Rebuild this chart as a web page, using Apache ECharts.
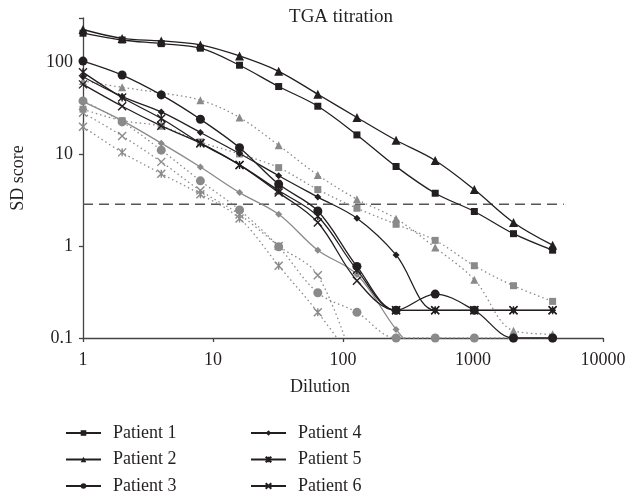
<!DOCTYPE html>
<html>
<head>
<meta charset="utf-8">
<script src="https://cdn.jsdelivr.net/npm/echarts@6/dist/echarts.min.js"></script>
<style>html,body{margin:0;padding:0;background:#fff}#c{width:630px;height:495px}</style>
</head>
<body>
<div id="c"></div>
<script>
// ---- data ----
const dilutions = [1, 2, 4, 8, 16, 32, 64, 128, 256, 512, 1024, 2048, 4096];
const patient1 = [205, 173, 158, 141, 92, 54, 33, 16.1, 7.3, 3.74, 2.37, 1.36, 0.9];
const patient2 = [225, 180, 169, 153, 116, 79, 44.5, 24.9, 14.1, 8.5, 4.1, 1.8, 1.02];
const patient3 = [102, 72, 43.8, 23.8, 11.7, 4.7, 2.4, 0.6, 0.2, 0.3, 0.2, 0.1, 0.1];
const patient4 = [69, 42, 28.6, 17.1, 10.1, 5.8, 3.4, 2.0, 0.8, 0.2, 0.2, 0.2, 0.2];
const patient5 = [77, 41, 24.3, 13.1, 7.6, 4.0, 2.1, 0.55, 0.2, 0.2, 0.2, 0.2, 0.2];
const patient6 = [57, 33, 20.2, 13.1, 7.6, 3.8, 1.8, 0.42, 0.2, 0.2, 0.2, 0.2, 0.2];
const grayTriangle = [62, 53, 46, 38.4, 24.9, 12.4, 5.9, 3.22, 1.98, 0.96, 0.43, 0.12, 0.11];
const graySquare = [30.6, 23, 20, 13.5, 10, 7.1, 4.1, 2.57, 1.72, 1.15, 0.61, 0.37, 0.25];
const grayCircle = [37.7, 22.3, 11.0, 5.1, 2.46, 0.98, 0.31, 0.19, 0.1, 0.1, 0.1, 0.1, 0.1];
const grayDiamond = [37, 23, 13.1, 7.2, 3.8, 2.21, 0.9, 0.49, 0.124, 0.04];
const grayCross = [28, 15.7, 8.2, 4.0, 2.2, 1.0, 0.48, 0.04];
const grayStar = [19.8, 10.4, 6.1, 3.65, 1.99, 0.61, 0.19, 0.05];
const thresholdX = [1, 5000];
const thresholdValue = 2.84;
const xTickLabels = ['1', '10', '100', '1000', '10000'];
const yTickLabels = ['0.1', '1', '10', '100'];

// ---- styling ----
const FONT = 'Liberation Serif';
const BLACK = '#231f20';
const GRAY = '#8a8a8a';
const CROSS = 'path://M0,0L10,10M10,0L0,10';
const STAR = 'path://M0,0L10,10M10,0L0,10M5,0L5,10';

function pairs(vals) { return vals.map((v, i) => [dilutions[i], v]); }

function blackSeries(name, vals, symbol, size, open) {
  return {
    name, type: 'line', data: pairs(vals), smooth: 0.35, z: 5,
    symbol, symbolSize: size,
    lineStyle: { color: BLACK, width: 1.3 },
    itemStyle: open ? { color: BLACK, borderColor: BLACK, borderWidth: 1.4 } : { color: BLACK },
    emphasis: { disabled: true }
  };
}
function graySeries(name, vals, symbol, size, open, solid) {
  return {
    name, type: 'line', data: pairs(vals), smooth: 0.35, z: 3,
    symbol, symbolSize: size,
    lineStyle: { color: GRAY, width: 1.3, type: solid ? 'solid' : [1.5, 3] },
    itemStyle: open ? { color: GRAY, borderColor: GRAY, borderWidth: 1.4 } : { color: GRAY },
    emphasis: { disabled: true }
  };
}

const chart = echarts.init(document.getElementById('c'), null, { renderer: 'canvas' });
const legendText = { fontFamily: FONT, fontSize: 18, color: BLACK, lineHeight: 18, padding: [0, 0, 0, 7] };
const legendCommon = {
  orient: 'vertical', top: 424, height: 80, padding: 0,
  itemWidth: 35, itemHeight: 7, itemGap: 8.5, textStyle: legendText, selectedMode: false
};
chart.setOption({
  animation: false,
  textStyle: { fontFamily: FONT, color: BLACK },
  title: {
    text: 'TGA titration', left: 341, top: 8, textAlign: 'center', padding: 0,
    textStyle: { fontFamily: FONT, fontSize: 19, fontWeight: 'normal', color: BLACK }
  },
  grid: { left: 83, right: 27, top: 18, bottom: 157, containLabel: false },
  xAxis: {
    type: 'log', logBase: 10, min: 1, max: 10000,
    axisLine: { lineStyle: { color: '#444', width: 1.3 } },
    axisTick: { lineStyle: { color: '#444', width: 1.3 }, length: 4 },
    splitLine: { show: false },
    axisLabel: {
      fontFamily: FONT, fontSize: 18, color: BLACK, margin: 13,
      formatter: v => { const s = String(+(+v).toPrecision(3)); return xTickLabels.includes(s) ? s : ''; }
    }
  },
  yAxis: {
    type: 'log', logBase: 10, min: 0.1, max: 300,
    name: 'SD score', nameLocation: 'middle', nameGap: 56,
    nameTextStyle: { fontFamily: FONT, fontSize: 18, color: BLACK },
    axisLine: { lineStyle: { color: '#444', width: 1.3 } },
    axisTick: { lineStyle: { color: '#444', width: 1.3 }, length: 4 },
    splitLine: { show: false },
    axisLabel: {
      fontFamily: FONT, fontSize: 18, color: BLACK, margin: 10,
      formatter: v => { const s = String(+(+v).toPrecision(3)); return yTickLabels.includes(s) ? s : ''; }
    }
  },
  graphic: [{
    type: 'text', left: 290, top: 378,
    style: { text: 'Dilution', font: '18px "Liberation Serif"', fill: BLACK, textAlign: 'left' }
  }],
  legend: [
    Object.assign({ data: ['Patient 1', 'Patient 2', 'Patient 3'], left: 65 }, legendCommon),
    Object.assign({ data: ['Patient 4', 'Patient 5', 'Patient 6'], left: 250 }, legendCommon)
  ],
  series: [
    {
      name: 'Threshold', type: 'line', data: thresholdX.map(x => [x, thresholdValue]),
      symbol: 'none', z: 2, lineStyle: { color: '#555', width: 1.3, type: [10, 6] }, emphasis: { disabled: true }
    },
    graySeries('Gray triangle', grayTriangle, 'triangle', 8, false, false),
    graySeries('Gray square', graySquare, 'rect', 7, false, false),
    graySeries('Gray circle', grayCircle, 'circle', 9, false, false),
    graySeries('Gray diamond', grayDiamond, 'diamond', 7, false, true),
    graySeries('Gray cross', grayCross, CROSS, 8, true, false),
    graySeries('Gray star', grayStar, STAR, 8, true, false),
    blackSeries('Patient 1', patient1, 'rect', 7, false),
    blackSeries('Patient 2', patient2, 'triangle', 9, false),
    blackSeries('Patient 3', patient3, 'circle', 9, false),
    blackSeries('Patient 4', patient4, 'diamond', 7, false),
    blackSeries('Patient 5', patient5, STAR, 8, true),
    blackSeries('Patient 6', patient6, CROSS, 8, true)
  ]
});
</script>
</body>
</html>
